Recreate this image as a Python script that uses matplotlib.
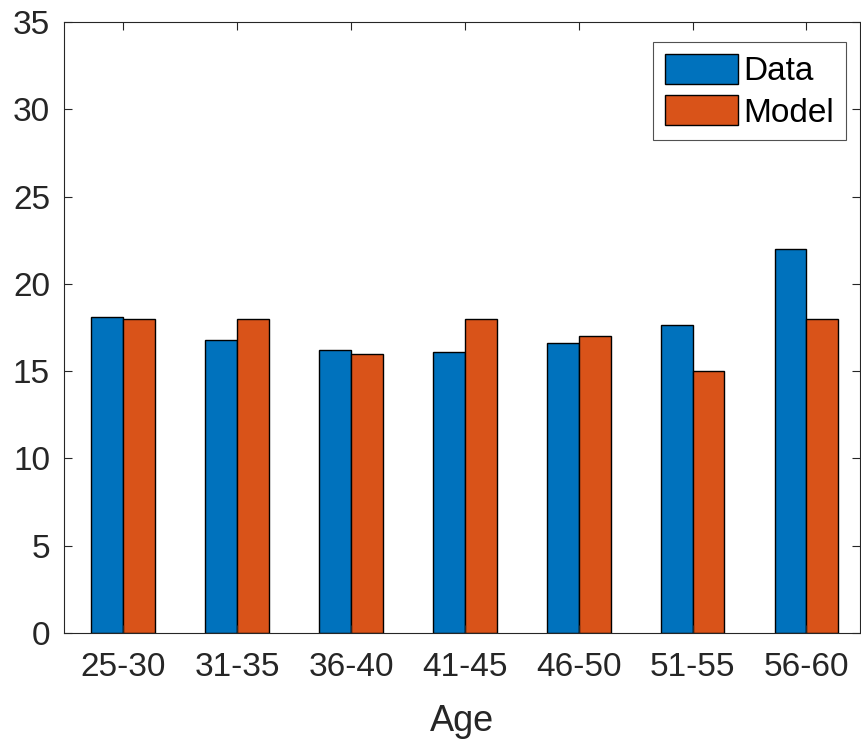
import numpy as np
import matplotlib
matplotlib.use('Agg')
import matplotlib.pyplot as plt

ages = ['25-30', '31-35', '36-40', '41-45', '46-50', '51-55', '56-60']
data_vals = [18.1, 16.8, 16.2, 16.1, 16.6, 17.65, 22.0]
model_vals = [18, 18, 16, 18, 17, 15, 18]

plt.rcParams['font.family'] = ['Liberation Sans', 'DejaVu Sans']

fig = plt.figure(figsize=(8.61, 7.43), dpi=100)
ax = fig.add_axes([64 / 861, 1 - 633 / 743, 796 / 861, 611 / 743])

x = np.arange(1, len(ages) + 1)
w = 0.28
ax.bar(x - w / 2, data_vals, w, color='#0072BD', edgecolor='black', linewidth=1, label='Data')
ax.bar(x + w / 2, model_vals, w, color='#D95319', edgecolor='black', linewidth=1, label='Model')

ax.set_xlim(0.48, 7.47)
ax.set_ylim(0, 35)
ax.set_yticks(range(0, 36, 5))
ax.set_xticks(x)
ax.set_xticklabels(ages)
ax.set_xlabel('Age', fontsize=26, color='#262626', labelpad=15)

ax.tick_params(direction='in', top=True, right=True, labelsize=24, colors='#262626',
               length=6, width=0.8)
ax.tick_params(axis='x', pad=14)
ax.tick_params(axis='y', pad=10)
for s in ax.spines.values():
    s.set_color('#262626')
    s.set_linewidth(0.8)

leg = ax.legend(loc='upper right', fontsize=24, frameon=True, fancybox=False,
                edgecolor='#262626', handlelength=2.2, handleheight=1.0,
                handletextpad=0.15, borderpad=0.35, labelspacing=0.25,
                bbox_to_anchor=(0.982, 0.967), borderaxespad=0)
leg.get_frame().set_linewidth(0.8)

fig.savefig('out.png', dpi=100)
